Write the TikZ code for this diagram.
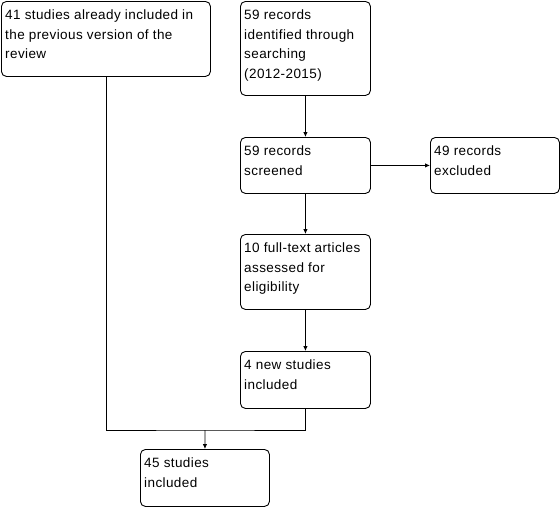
\documentclass[tikz,border=0pt]{standalone}
\usepackage{fontspec}
\newfontfamily\boxfont[LetterSpace=3]{Liberation Sans}
\usetikzlibrary{arrows.meta}
\tikzset{
  flowbox/.style={draw=black, line width=0.9pt, rounded corners=5pt, fill=white, inner sep=0pt, anchor=north west},
  flowtxt/.style={inner sep=0pt, anchor=north west, align=left, font=\boxfont\fontsize{13.5}{19.5}\selectfont},
  conn/.style={draw=black, line width=0.9pt},
  arr/.style={conn, -{Latex[length=5pt,width=4.5pt]}}
}
\begin{document}
\begin{tikzpicture}[x=1pt,y=-1pt]
\useasboundingbox (0,0) rectangle (560,507);
% boxes
\node[flowbox, minimum width=209pt, minimum height=75pt] (A) at (1,1) {};
\node[flowbox, minimum width=130pt, minimum height=94pt] (B) at (240,1) {};
\node[flowbox, minimum width=130pt, minimum height=56pt] (C) at (240,137) {};
\node[flowbox, minimum width=129pt, minimum height=56pt] (D) at (430,137) {};
\node[flowbox, minimum width=130pt, minimum height=75pt] (E) at (240,234) {};
\node[flowbox, minimum width=130pt, minimum height=57pt] (F) at (240,351) {};
\node[flowbox, minimum width=129pt, minimum height=57pt] (G) at (140,449) {};
% texts
\node[flowtxt] (At) at ([shift={(4,5)}]A.north west) {\strut 41 studies already included in\\the previous version of the\\review};
\node[flowtxt] (Bt) at ([shift={(4,5)}]B.north west) {\strut 59 records\\identified through\\searching\\(2012-2015)};
\node[flowtxt] (Ct) at ([shift={(4,5)}]C.north west) {\strut 59 records\\screened};
\node[flowtxt] (Dt) at ([shift={(4,5)}]D.north west) {\strut 49 records\\excluded};
\node[flowtxt] (Et) at ([shift={(4,5)}]E.north west) {\strut 10 full-text articles\\assessed for\\eligibility};
\node[flowtxt] (Ft) at ([shift={(4,5)}]F.north west) {\strut 4 new studies\\included};
\node[flowtxt] (Gt) at ([shift={(4,5)}]G.north west) {\strut 45 studies\\included};
% connectors
\coordinate (m) at (205,430);
\draw[arr] (B.south) -- (C.north);
\draw[arr] (C.east) -- (D.west);
\draw[arr] (C.south) -- (E.north);
\draw[arr] (E.south) -- (F.north);
\draw[conn] (A.south) |- (m) -| (F.south);
\draw[arr] (m) -- (G.north);
\end{tikzpicture}
\end{document}
